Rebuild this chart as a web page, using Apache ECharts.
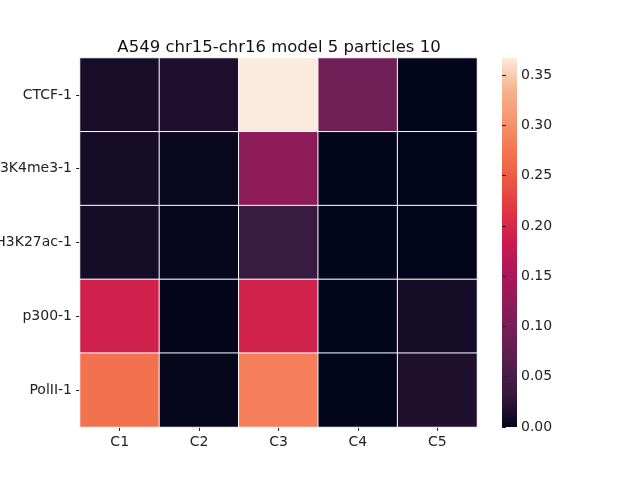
<!DOCTYPE html>
<html>
<head>
<meta charset="utf-8">
<script src="https://cdn.jsdelivr.net/npm/echarts@6/dist/echarts.min.js"></script>
<style>
    html, body {margin: 0; padding: 0; background: #fff;}
    #myChart {width: 640px; height: 480px;}
</style>
</head>
<body>
<div id="myChart"></div>
<script>
// 数据
let columns = ['C1', 'C2', 'C3', 'C4', 'C5'];
let rows = ['CTCF-1', 'H3K4me3-1', 'H3K27ac-1', 'p300-1', 'PolII-1'];
let ctcf = [0.012, 0.016, 0.367, 0.090, 0.000];
let h3k4me3 = [0.011, 0.004, 0.120, 0.000, 0.000];
let h3k27ac = [0.011, 0.002, 0.035, 0.000, 0.000];
let p300 = [0.190, 0.001, 0.192, 0.000, 0.011];
let polII = [0.270, 0.002, 0.284, 0.000, 0.017];
let colorTicks = [0, 0.05, 0.10, 0.15, 0.20, 0.25, 0.30, 0.35];
let vMax = 0.367;

// rocket 色表 (均匀取样, 0 -> 1)
let rocket = ['#03051a', '#35193e', '#541e4d', '#701f57', '#8e1b58', '#ad1759',
    '#cb1b4f', '#e13342', '#ec5644', '#f37651', '#f59670', '#f6b48f', '#faebdd'];

let font = 'DejaVu Sans';
let myChart = echarts.init(document.getElementById('myChart'));

// 转换成 [x, y, v]
let matrix = [ctcf, h3k4me3, h3k27ac, p300, polII];
let data = [];
matrix.forEach((row, y) => {
    row.forEach((v, x) => data.push([x, y, v]));
});

// 色条渐变 (上 = 最大值)
let stops = rocket.map((c, i) => ({offset: 1 - i / (rocket.length - 1), color: c}));
stops.reverse();

let labelStyle = {color: '#222', fontSize: 14, fontFamily: font};

let option = {
    animation: false,
    title: {
        text: 'A549 chr15-chr16 model 5 particles 10',
        left: 274, top: 34, textAlign: 'center',
        textStyle: {fontWeight: 'normal', fontSize: 16.5, fontFamily: font, color: '#111'}
    },
    grid: [
        {left: 80, top: 58, width: 397, height: 369, outerBoundsMode: 'none', containLabel: false},
        {left: 502, top: 58, width: 15, height: 369, outerBoundsMode: 'none', containLabel: false}
    ],
    xAxis: [{
        type: 'category', data: columns, gridIndex: 0,
        axisLine: {show: false},
        axisTick: {show: true, alignWithLabel: true, length: 4, lineStyle: {color: '#222'}},
        axisLabel: {...labelStyle, margin: 8},
        splitArea: {show: false}
    }, {
        type: 'value', gridIndex: 1, show: false, min: 0, max: 1
    }],
    yAxis: [{
        type: 'category', data: rows, gridIndex: 0, inverse: true,
        axisLine: {show: false},
        axisTick: {show: true, alignWithLabel: true, length: 4, lineStyle: {color: '#222'}},
        axisLabel: {...labelStyle, margin: 8},
        splitArea: {show: false}
    }, {
        type: 'value', gridIndex: 1, position: 'right', min: 0, max: vMax,
        axisLine: {show: false},
        splitLine: {show: false},
        axisTick: {show: true, length: 4, lineStyle: {color: '#222'}, customValues: colorTicks},
        axisLabel: {...labelStyle, margin: 4, customValues: colorTicks, formatter: v => v.toFixed(2)}
    }],
    visualMap: {
        type: 'continuous',
        show: false,
        min: 0, max: vMax,
        inRange: {color: rocket},
        seriesIndex: 0
    },
    graphic: [{
        type: 'rect',
        left: 502, top: 58,
        shape: {width: 15, height: 369},
        style: {fill: new echarts.graphic.LinearGradient(0, 0, 0, 1, stops)},
        silent: true
    }],
    series: [{
        type: 'heatmap',
        xAxisIndex: 0, yAxisIndex: 0,
        data: data,
        itemStyle: {borderColor: '#fff', borderWidth: 1}
    }]
};

myChart.setOption(option);
</script>
</body>
</html>
